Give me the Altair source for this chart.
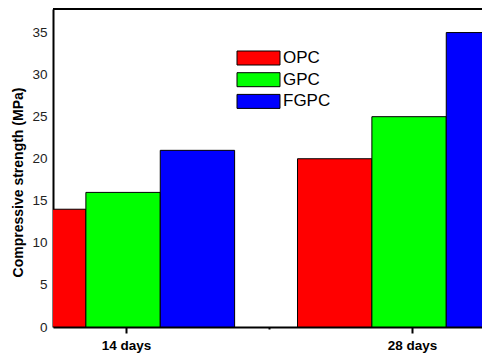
import altair as alt
import pandas as pd

periods = ["14 days", "28 days"]
mixes = ["OPC", "GPC", "FGPC"]
colors = ["#FF0000", "#00FF00", "#0000FF"]
opc = [14, 20]
gpc = [16, 25]
fgpc = [21, 35]
y_ticks = [0, 5, 10, 15, 20, 25, 30, 35]

series = {"OPC": opc, "GPC": gpc, "FGPC": fgpc}
rows = []
for mi, m in enumerate(mixes):
    for pi, p in enumerate(periods):
        rows.append({"period": p, "pi": pi, "mix": m, "mi": mi, "value": series[m][pi]})
df = pd.DataFrame(rows)

FONT = "Liberation Sans"
BW = 0.26
W, H = 429, 318

label_expr = "datum.value == 0 ? '%s' : datum.value == 1 ? '%s' : ''" % (periods[0], periods[1])

xscale = alt.Scale(domain=[-0.255, 1.245], nice=False, zero=False)
yscale = alt.Scale(domain=[0, 37.8], nice=False)

base = alt.Chart(df).transform_calculate(
    x0=f"datum.pi + (datum.mi - 1) * {BW} - 0.14",
    x1=f"datum.pi + (datum.mi - 1) * {BW} - 0.14 + {BW}",
)

bars = base.mark_bar(clip=True, stroke="#000000", strokeWidth=1).encode(
    x=alt.X("x0:Q", scale=xscale,
            axis=alt.Axis(values=[0, 0.5, 1], labelExpr=label_expr, title=None,
                          grid=False, domainColor="#000", domainWidth=2,
                          tickColor="#000", tickWidth=2,
                          tickSize=alt.ExprRef(expr="datum.value == 0.5 ? 2 : 6"),
                          labelFont=FONT, labelFontSize=13.5, labelFontWeight="bold",
                          labelColor="#000", labelPadding=5, labelFlush=False)),
    x2="x1:Q",
    y=alt.Y("value:Q", scale=yscale,
            axis=alt.Axis(values=y_ticks, title="Compressive strength (MPa)", grid=False,
                          ticks=False, domainColor="#000", domainWidth=2,
                          labelFont=FONT, labelFontSize=13.5, labelColor="#222",
                          labelPadding=6, titleFont=FONT, titleFontSize=14,
                          titleFontWeight="bold", titleColor="#000",
                          titleAngle=270, titleX=-35, titleY=173,
                          titleAlign="center", titleBaseline="middle")),
    y2=alt.Y2(datum=0),
    color=alt.Color("mix:N", scale=alt.Scale(domain=mixes, range=colors),
                    legend=alt.Legend(title=None, orient="none", legendX=197, legendY=40.5,
                                      symbolType="M-3.07,-1H3.07V1H-3.07Z",
                                      symbolSize=196, symbolStrokeColor="#000",
                                      symbolStrokeWidth=1, symbolOpacity=1,
                                      labelFont=FONT, labelFontSize=17, labelColor="#000",
                                      labelOffset=16, padding=0, rowPadding=2.7)),
)

top_border = alt.Chart(df).mark_rule(color="#000", strokeWidth=2).encode(
    x=alt.value(0), x2=alt.value(W), y=alt.value(0)
)

chart = alt.layer(bars, top_border).properties(
    width=W, height=H,
    autosize=alt.AutoSizeParams(type="none"),
    padding={"left": 53, "top": 9, "right": 0, "bottom": 26},
).configure_view(stroke=None).configure(background="#ffffff")

chart.save("out.html", embed_options={"renderer": "svg", "actions": False})
